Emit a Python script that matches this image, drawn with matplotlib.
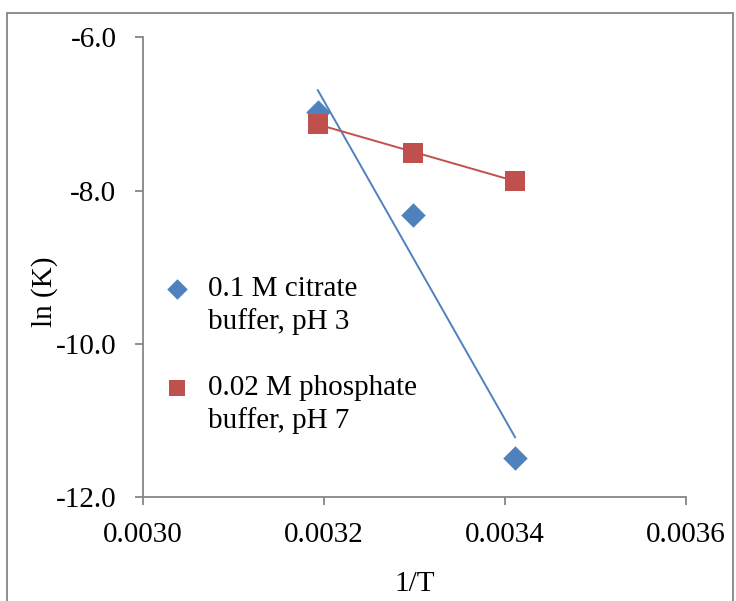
import numpy as np
import matplotlib.pyplot as plt
from matplotlib.patches import Rectangle

plt.rcParams['font.family'] = ['Liberation Serif', 'DejaVu Serif']

# 1/T for 40, 30, 20 degC
inv_t = [1 / 313.15, 1 / 303.15, 1 / 293.15]
# ln(K) values
citrate = [-6.98, -8.32, -11.49]
phosphate = [-7.13, -7.51, -7.87]

labels = ['0.1 M citrate\nbuffer, pH 3', '0.02 M phosphate\nbuffer, pH 7']
blue = '#4F81BD'
red = '#C0504D'
fs = 21

fig = plt.figure(figsize=(7.36, 6.01), dpi=100)
ax = fig.add_axes([0.194, 0.173, 0.738, 0.765])

# linear trendlines across the data range
xs = np.array([min(inv_t), max(inv_t)])
for vals, col in [(citrate, blue), (phosphate, red)]:
    m, b = np.polyfit(inv_t, vals, 1)
    ax.plot(xs, m * xs + b, color=col, lw=1.4, zorder=2)

h1 = ax.scatter(inv_t, citrate, marker='D', s=155, color=blue, zorder=3, linewidths=0)
h2 = ax.scatter(inv_t, phosphate, marker='s', s=195, color=red, zorder=4, linewidths=0)

ax.set_xlim(0.0030, 0.0036)
ax.set_ylim(-12, -6)
ax.set_xticks([0.0030, 0.0032, 0.0034, 0.0036])
ax.set_yticks([-12, -10, -8, -6])
ax.xaxis.set_major_formatter(plt.FuncFormatter(lambda v, p: f'{v:.4f}'))
ax.yaxis.set_major_formatter(plt.FuncFormatter(lambda v, p: f'{v:.1f}'))

for s in ['top', 'right']:
    ax.spines[s].set_visible(False)
for s in ['left', 'bottom']:
    ax.spines[s].set_color('#868686')
    ax.spines[s].set_linewidth(1.3)
ax.tick_params(colors='#868686', labelcolor='black', labelsize=fs, length=6, width=1.3)
ax.tick_params(axis='x', pad=12)
ax.tick_params(axis='y', pad=13)

ax.set_xlabel('1/T', fontsize=fs)
ax.set_ylabel('ln (K)', fontsize=fs)
ax.xaxis.set_label_coords(0.5, -0.16)
ax.yaxis.set_label_coords(-0.157, 0.446)

leg = ax.legend([h1, h2], labels, loc='upper left', bbox_to_anchor=(0.015, 0.507),
                frameon=False, fontsize=fs, handletextpad=0.57, labelspacing=1.35,
                borderaxespad=0, scatterpoints=1, handlelength=1.0, markerscale=0.84)
for t in leg.get_texts():
    t.set_linespacing(1.32)
# put legend markers level with the first text line, as Excel does
for h in leg.legend_handles:
    off = h.get_offsets()
    off[:, 1] += 0.65 * fs
    h.set_offsets(off)

# chart border
fig.patches.append(Rectangle((0.009, -0.01), 0.987, 0.988, transform=fig.transFigure,
                             fill=False, edgecolor='#868686', lw=1.3))

fig.savefig('out.png', dpi=100)
